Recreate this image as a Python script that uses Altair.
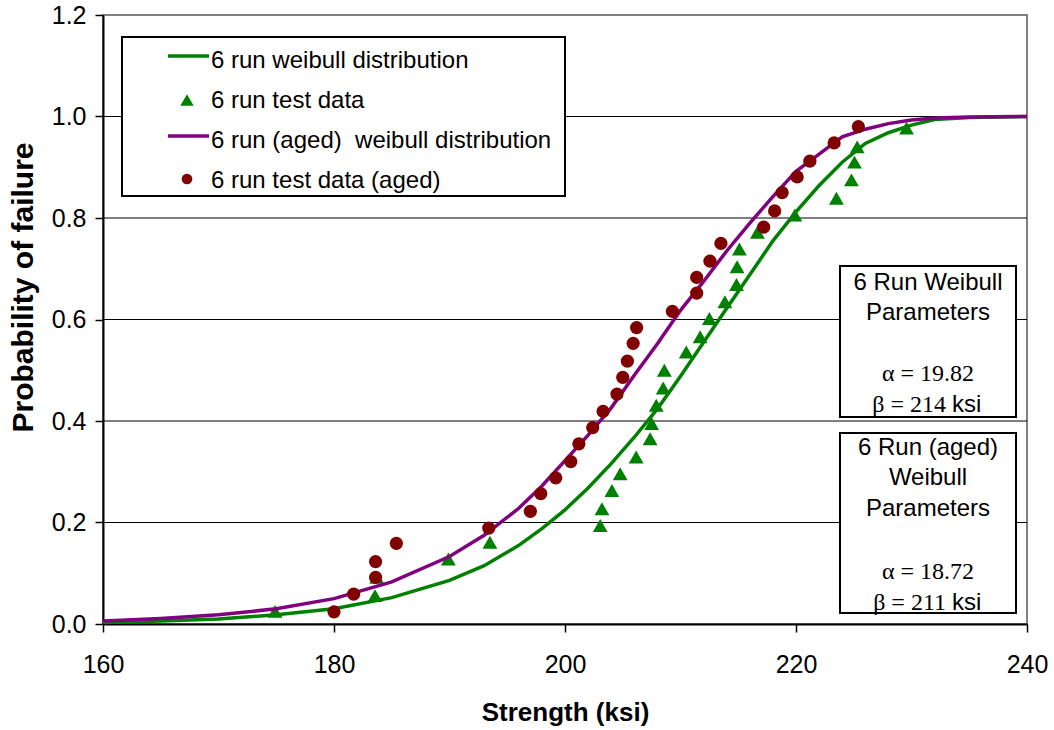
import altair as alt
import pandas as pd

# ---- data ----
curve_strength = [160, 165, 170, 175, 180, 185, 190, 193, 196, 198, 200, 202, 204, 206,
                  208, 210, 212, 214, 216, 218, 220, 222, 224, 226, 228, 230, 232, 235, 240]
weibull_6run = [0.003, 0.006, 0.010, 0.018, 0.030, 0.052, 0.086, 0.115, 0.155, 0.188, 0.225,
                0.268, 0.316, 0.368, 0.424, 0.488, 0.555, 0.622, 0.688, 0.755, 0.812, 0.864,
                0.910, 0.947, 0.968, 0.983, 0.994, 0.998, 1.0]
weibull_aged = [0.006, 0.011, 0.018, 0.030, 0.050, 0.083, 0.133, 0.175, 0.228, 0.272, 0.322,
                0.372, 0.426, 0.490, 0.552, 0.618, 0.675, 0.735, 0.790, 0.842, 0.892, 0.926,
                0.960, 0.975, 0.986, 0.993, 0.997, 0.999, 1.0]

test_strength = [174.9, 183.55, 183.7, 189.9, 193.5, 203.05, 203.2, 204.06, 204.78, 206.16,
                 207.37, 207.5, 207.9, 208.5, 208.6, 210.5, 211.7, 212.5, 213.84, 214.85,
                 214.9, 215.1, 216.66, 219.9, 223.5, 224.8, 225.06, 225.3, 229.57]
test_prob = [0.025, 0.056, 0.092, 0.128, 0.161, 0.194, 0.227, 0.263, 0.296, 0.329, 0.365,
             0.395, 0.431, 0.465, 0.50, 0.536, 0.566, 0.602, 0.635, 0.669, 0.704, 0.739,
             0.772, 0.806, 0.839, 0.875, 0.91, 0.94, 0.977]

aged_strength = [180.0, 181.7, 183.6, 183.6, 185.4, 193.4, 197.0, 197.9, 199.2, 200.5, 201.2,
                 202.4, 203.3, 204.5, 205.0, 205.4, 205.9, 206.2, 209.3, 211.4, 211.4, 212.55,
                 213.5, 217.2, 218.15, 218.8, 220.1, 221.2, 223.3, 225.4]
aged_prob = [0.024, 0.059, 0.092, 0.123, 0.159, 0.189, 0.222, 0.257, 0.288, 0.32, 0.355,
             0.387, 0.419, 0.453, 0.486, 0.518, 0.553, 0.584, 0.616, 0.652, 0.683, 0.715,
             0.75, 0.782, 0.814, 0.85, 0.881, 0.912, 0.948, 0.98]

grid_values = [0.2, 0.4, 0.6, 0.8, 1.0]
x_ticks = [160, 180, 200, 220, 240]
y_ticks = [0.0, 0.2, 0.4, 0.6, 0.8, 1.0, 1.2]

legend_labels = ["6 run weibull distribution", "6 run test data",
                 "6 run (aged)\u00a0 weibull distribution", "6 run test data (aged)"]

GREEN = "#008000"
PURPLE = "#800080"
DARKRED = "#800000"
SANS = "Liberation Sans"
SERIF = "Liberation Serif"

W, H = 924, 609

xs = alt.Scale(domain=[160, 240], nice=False)
ys = alt.Scale(domain=[0, 1.2], nice=False)
XT = "Strength (ksi)"
YT = "Probability of failure"

x_axis = alt.Axis(values=x_ticks, format="d", title=XT, labelPadding=20, tickSize=8,
                  labelFlush=False, titleY=88, titleBaseline="middle", titleFontSize=26)
y_axis = alt.Axis(values=y_ticks, format=".1f", title=YT, labelPadding=9, tickSize=8,
                  labelFlush=False, titleX=-80, titleY=272, titleBaseline="middle",
                  titleFontSize=30)

curves = pd.DataFrame({"s": curve_strength, "g": weibull_6run, "a": weibull_aged})
tests = pd.DataFrame({"s": test_strength, "p": test_prob})
aged = pd.DataFrame({"s": aged_strength, "p": aged_prob})
grid = pd.DataFrame({"v": grid_values})
one = pd.DataFrame({"d": [0]})

grid_layer = alt.Chart(grid).mark_rule(color="black", strokeWidth=1).encode(
    y=alt.Y("v:Q", scale=ys, axis=y_axis)
)

green_line = alt.Chart(curves).mark_line(color=GREEN, strokeWidth=3.5).encode(
    x=alt.X("s:Q", scale=xs, axis=x_axis),
    y=alt.Y("g:Q", scale=ys, axis=y_axis),
)
tri = alt.Chart(tests).mark_point(shape="triangle-up", filled=True, size=220,
                                  color=GREEN, opacity=1).encode(
    x=alt.X("s:Q", scale=xs, axis=x_axis),
    y=alt.Y("p:Q", scale=ys, axis=y_axis),
)
purple_line = alt.Chart(curves).mark_line(color=PURPLE, strokeWidth=3.5).encode(
    x=alt.X("s:Q", scale=xs, axis=x_axis),
    y=alt.Y("a:Q", scale=ys, axis=y_axis),
)
circ = alt.Chart(aged).mark_circle(size=175, color=DARKRED, opacity=1).encode(
    x=alt.X("s:Q", scale=xs, axis=x_axis),
    y=alt.Y("p:Q", scale=ys, axis=y_axis),
)


def box(x1, x2, y1, y2):
    return alt.Chart(one).mark_rect(fill="white", stroke="black", strokeWidth=2).encode(
        x=alt.value(x1), x2=alt.value(x2), y=alt.value(y1), y2=alt.value(y2)
    )


def txt(s, x, y, font=SANS, align="center", size=24, baseline="middle"):
    return alt.Chart(one).mark_text(text=s, font=font, fontSize=size, align=align,
                                    baseline=baseline, color="black").encode(
        x=alt.value(x), y=alt.value(y)
    )


overlay = [box(19, 462, 22, 181)]
# legend rows
row_base = [53, 93, 133, 173]
overlay.append(alt.Chart(one).mark_rule(color=GREEN, strokeWidth=3.5).encode(
    x=alt.value(65), x2=alt.value(106), y=alt.value(row_base[0] - 12)))
overlay.append(alt.Chart(one).mark_point(shape="triangle-up", filled=True, size=180,
                                         color=GREEN, opacity=1).encode(
    x=alt.value(84), y=alt.value(row_base[1] - 8)))
overlay.append(alt.Chart(one).mark_rule(color=PURPLE, strokeWidth=3.5).encode(
    x=alt.value(65), x2=alt.value(106), y=alt.value(row_base[2] - 12)))
overlay.append(alt.Chart(one).mark_circle(size=115, color=DARKRED, opacity=1).encode(
    x=alt.value(84), y=alt.value(row_base[3] - 9)))
for lab, yb in zip(legend_labels, row_base):
    overlay.append(txt(lab, 108, yb, align="left", baseline="alphabetic", size=24))

# parameter boxes
cx = 825
overlay.append(box(737, 913, 251, 402))
overlay.append(txt("6 Run Weibull", cx, 268))
overlay.append(txt("Parameters", cx, 298))
overlay.append(txt("\u03b1 = 19.82", cx, 359, font=SERIF, size=24))
overlay.append(txt("\u03b2 = 214", cx + 18, 390, font=SERIF, size=24, align="right"))
overlay.append(txt("ksi", cx + 24, 390, align="left"))

overlay.append(box(737, 913, 418, 598))
overlay.append(txt("6 Run (aged)", cx, 433))
overlay.append(txt("Weibull", cx, 463))
overlay.append(txt("Parameters", cx, 494))
overlay.append(txt("\u03b1 = 18.72", cx, 557, font=SERIF, size=24))
overlay.append(txt("\u03b2 = 211", cx + 18, 588, font=SERIF, size=24, align="right"))
overlay.append(txt("ksi", cx + 24, 588, align="left"))

chart = alt.layer(grid_layer, green_line, tri, purple_line, circ, *overlay).properties(
    width=W, height=H,
    autosize=alt.AutoSizeParams(type="none"),
    padding={"left": 103, "top": 15, "right": 27, "bottom": 106},
    background="white",
).configure_view(
    stroke="#808080", strokeWidth=2
).configure_axis(
    grid=False,
    domainColor="black", domainWidth=2,
    tickColor="black", tickWidth=1.5,
    labelColor="black", labelFont=SANS, labelFontSize=25,
    titleColor="black", titleFont=SANS, titleFontSize=25, titleFontWeight="bold",
)

chart.save("out.html", embed_options={"renderer": "svg", "actions": False})
